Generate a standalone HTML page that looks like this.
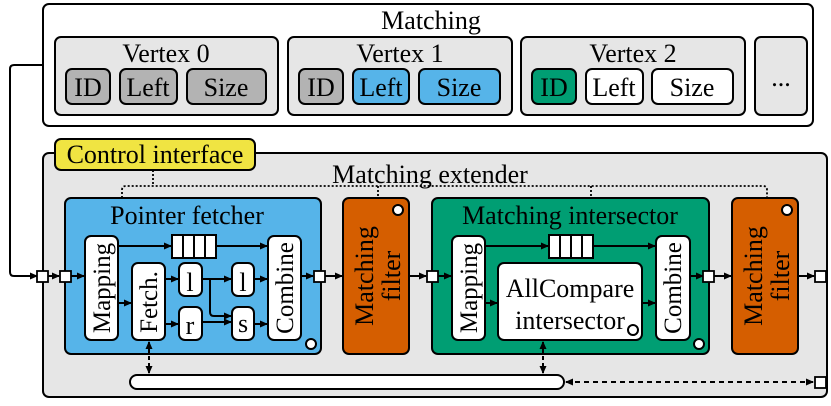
<!DOCTYPE html>
<html><head><meta charset="utf-8"><style>
html,body{margin:0;padding:0;background:#fff;}
svg{display:block;font-family:"Liberation Serif",serif;}
</style></head><body>
<svg width="831" height="406" viewBox="0 0 831 406" xmlns="http://www.w3.org/2000/svg">
<defs>
<marker id="a" markerWidth="8" markerHeight="8" refX="7" refY="4" orient="auto" markerUnits="userSpaceOnUse"><path d="M0,0.5 L8,4 L0,7.5 Z" fill="#000"/></marker>
<marker id="b" markerWidth="8" markerHeight="8" refX="1" refY="4" orient="auto" markerUnits="userSpaceOnUse"><path d="M8,0.5 L0,4 L8,7.5 Z" fill="#000"/></marker>
</defs>
<g stroke="#000" stroke-width="2">
<rect x="43" y="4" width="770" height="122" rx="6" fill="#fff"/>
<rect x="55" y="37" width="223" height="78" rx="6" fill="#e6e6e6"/>
<rect x="288" y="37" width="224" height="78" rx="6" fill="#e6e6e6"/>
<rect x="521" y="37" width="224" height="78" rx="6" fill="#e6e6e6"/>
<rect x="755" y="37" width="52" height="78" rx="6" fill="#e6e6e6"/>
<rect x="66" y="69" width="44" height="35" rx="6" fill="#b3b3b3"/>
<rect x="120" y="69" width="57" height="35" rx="6" fill="#b3b3b3"/>
<rect x="187" y="69" width="79" height="35" rx="6" fill="#b3b3b3"/>
<rect x="299" y="69" width="44" height="35" rx="6" fill="#b3b3b3"/>
<rect x="353" y="69" width="56" height="35" rx="6" fill="#56b4e9"/>
<rect x="419" y="69" width="81" height="35" rx="6" fill="#56b4e9"/>
<rect x="532" y="69" width="44" height="35" rx="6" fill="#009e73"/>
<rect x="586" y="69" width="57" height="35" rx="6" fill="#fff"/>
<rect x="652" y="69" width="81" height="35" rx="6" fill="#fff"/>
<rect x="43" y="153" width="784" height="244" rx="6" fill="#e6e6e6"/>
<rect x="55" y="139" width="200" height="31" rx="6" fill="#f0e442"/>
<path d="M43,65 H14 Q10,65 10,69 V272 Q10,276 14,276 H37" fill="none" marker-end="url(#a)"/>
<path d="M153,170 V186 M122,198 V190 Q122,186 126,186 H763 Q767,186 767,190 V198 M378,186 V198 M591,186 V198" fill="none" stroke-dasharray="2,2" stroke-width="1.8"/>
<rect x="65" y="198" width="256" height="156" rx="6" fill="#56b4e9"/>
<rect x="85" y="236" width="33" height="104" rx="6" fill="#fff"/>
<rect x="132" y="263" width="33" height="77" rx="6" fill="#fff"/>
<rect x="179" y="263" width="23" height="33" rx="6" fill="#fff"/>
<rect x="179" y="307" width="23" height="33" rx="6" fill="#fff"/>
<rect x="232" y="263" width="22" height="33" rx="6" fill="#fff"/>
<rect x="232" y="307" width="22" height="33" rx="6" fill="#fff"/>
<rect x="268" y="236" width="33" height="104" rx="6" fill="#fff"/>
<rect x="172" y="235" width="44" height="23" fill="#fff"/>
<path d="M183,235 V258 M194,235 V258 M205,235 V258"/>
<circle cx="311" cy="344" r="5" fill="#fff"/>
<path d="M118,246 H171" marker-end="url(#a)"/>
<path d="M216,246 H267" marker-end="url(#a)"/>
<path d="M118,303 H131" marker-end="url(#a)"/>
<path d="M165,279 H178" marker-end="url(#a)"/>
<path d="M165,324 H178" marker-end="url(#a)"/>
<path d="M202,279 H231" marker-end="url(#a)"/>
<path d="M210,279 V312 Q210,316 214,316 H231" fill="none" marker-end="url(#a)"/>
<path d="M202,322 H231" marker-end="url(#a)"/>
<path d="M254,279 H267" marker-end="url(#a)"/>
<path d="M254,324 H267" marker-end="url(#a)"/>
<rect x="343" y="198" width="66" height="156" rx="6" fill="#d55e00"/>
<circle cx="398" cy="210" r="5" fill="#fff"/>
<rect x="432" y="198" width="277" height="156" rx="6" fill="#009e73"/>
<rect x="452" y="236" width="33" height="104" rx="6" fill="#fff"/>
<rect x="498" y="263" width="144" height="77" rx="6" fill="#fff"/>
<rect x="656" y="236" width="34" height="104" rx="6" fill="#fff"/>
<rect x="549" y="235" width="44" height="23" fill="#fff"/>
<path d="M560,235 V258 M571,235 V258 M582,235 V258"/>
<circle cx="633" cy="330" r="5" fill="#fff"/>
<circle cx="699" cy="344" r="5" fill="#fff"/>
<path d="M485,246 H548" marker-end="url(#a)"/>
<path d="M593,246 H655" marker-end="url(#a)"/>
<path d="M485,303 H497" marker-end="url(#a)"/>
<path d="M642,303 H655" marker-end="url(#a)"/>
<rect x="732" y="198" width="66" height="156" rx="6" fill="#d55e00"/>
<circle cx="787" cy="210" r="5" fill="#fff"/>
<path d="M48,276 H59" marker-end="url(#a)"/>
<path d="M71,276 H84" marker-end="url(#a)"/>
<path d="M301,276 H313" marker-end="url(#a)"/>
<path d="M325,276 H342" marker-end="url(#a)"/>
<path d="M409,276 H426" marker-end="url(#a)"/>
<path d="M438,276 H451" marker-end="url(#a)"/>
<path d="M690,276 H703" marker-end="url(#a)"/>
<path d="M714,276 H731" marker-end="url(#a)"/>
<path d="M798,276 H814" marker-end="url(#a)"/>
<rect x="130" y="375" width="434" height="14" rx="7" fill="#fff"/>
<path d="M149,342 V373" stroke-dasharray="4,3" marker-start="url(#b)" marker-end="url(#a)"/>
<path d="M543,342 V373" stroke-dasharray="4,3" marker-start="url(#b)" marker-end="url(#a)"/>
<path d="M566,382 H813" stroke-dasharray="5,4" marker-start="url(#b)" marker-end="url(#a)"/>
<g fill="#fff" stroke-width="1.8">
<rect x="37" y="271" width="11" height="11"/>
<rect x="60" y="271" width="11" height="11"/>
<rect x="314" y="271" width="11" height="11"/>
<rect x="427" y="271" width="11" height="11"/>
<rect x="703" y="271" width="11" height="11"/>
<rect x="815" y="271" width="11" height="11"/>
<rect x="815" y="377" width="11" height="11"/>
</g>
</g>
<g font-size="26" text-anchor="middle" fill="#000">
<text x="431" y="29">Matching</text>
<text x="166" y="62">Vertex 0</text>
<text x="400" y="62">Vertex 1</text>
<text x="633" y="62">Vertex 2</text>
<text x="781" y="86">...</text>
<text x="88" y="96">ID</text><text x="148" y="96">Left</text><text x="226" y="96">Size</text>
<text x="321" y="96">ID</text><text x="381" y="96">Left</text><text x="459" y="96">Size</text>
<text x="554" y="96">ID</text><text x="614" y="96">Left</text><text x="692" y="96">Size</text>
<text x="155" y="163">Control interface</text>
<text x="430" y="183">Matching extender</text>
<text x="187" y="224">Pointer fetcher</text>
<text x="570" y="224">Matching intersector</text>
<text x="190" y="291">l</text><text x="190" y="334">r</text>
<text x="243" y="291">l</text><text x="243" y="332">s</text>
<text x="570" y="297">AllCompare</text>
<text x="570" y="329">intersector</text>
</g>
<g font-size="25" text-anchor="middle" fill="#000">
<text transform="translate(110,288) rotate(-90)">Mapping</text>
<text transform="translate(157,302) rotate(-90)">Fetch.</text>
<text transform="translate(293,288) rotate(-90)">Combine</text>
<text transform="translate(477,288) rotate(-90)">Mapping</text>
<text transform="translate(681,288) rotate(-90)">Combine</text>
</g>
<g font-size="26" text-anchor="middle" fill="#000">
<text transform="translate(373,276) rotate(-90)">Matching</text>
<text transform="translate(400,276) rotate(-90)">filter</text>
<text transform="translate(762,276) rotate(-90)">Matching</text>
<text transform="translate(789,276) rotate(-90)">filter</text>
</g>
</svg>
</body></html>
